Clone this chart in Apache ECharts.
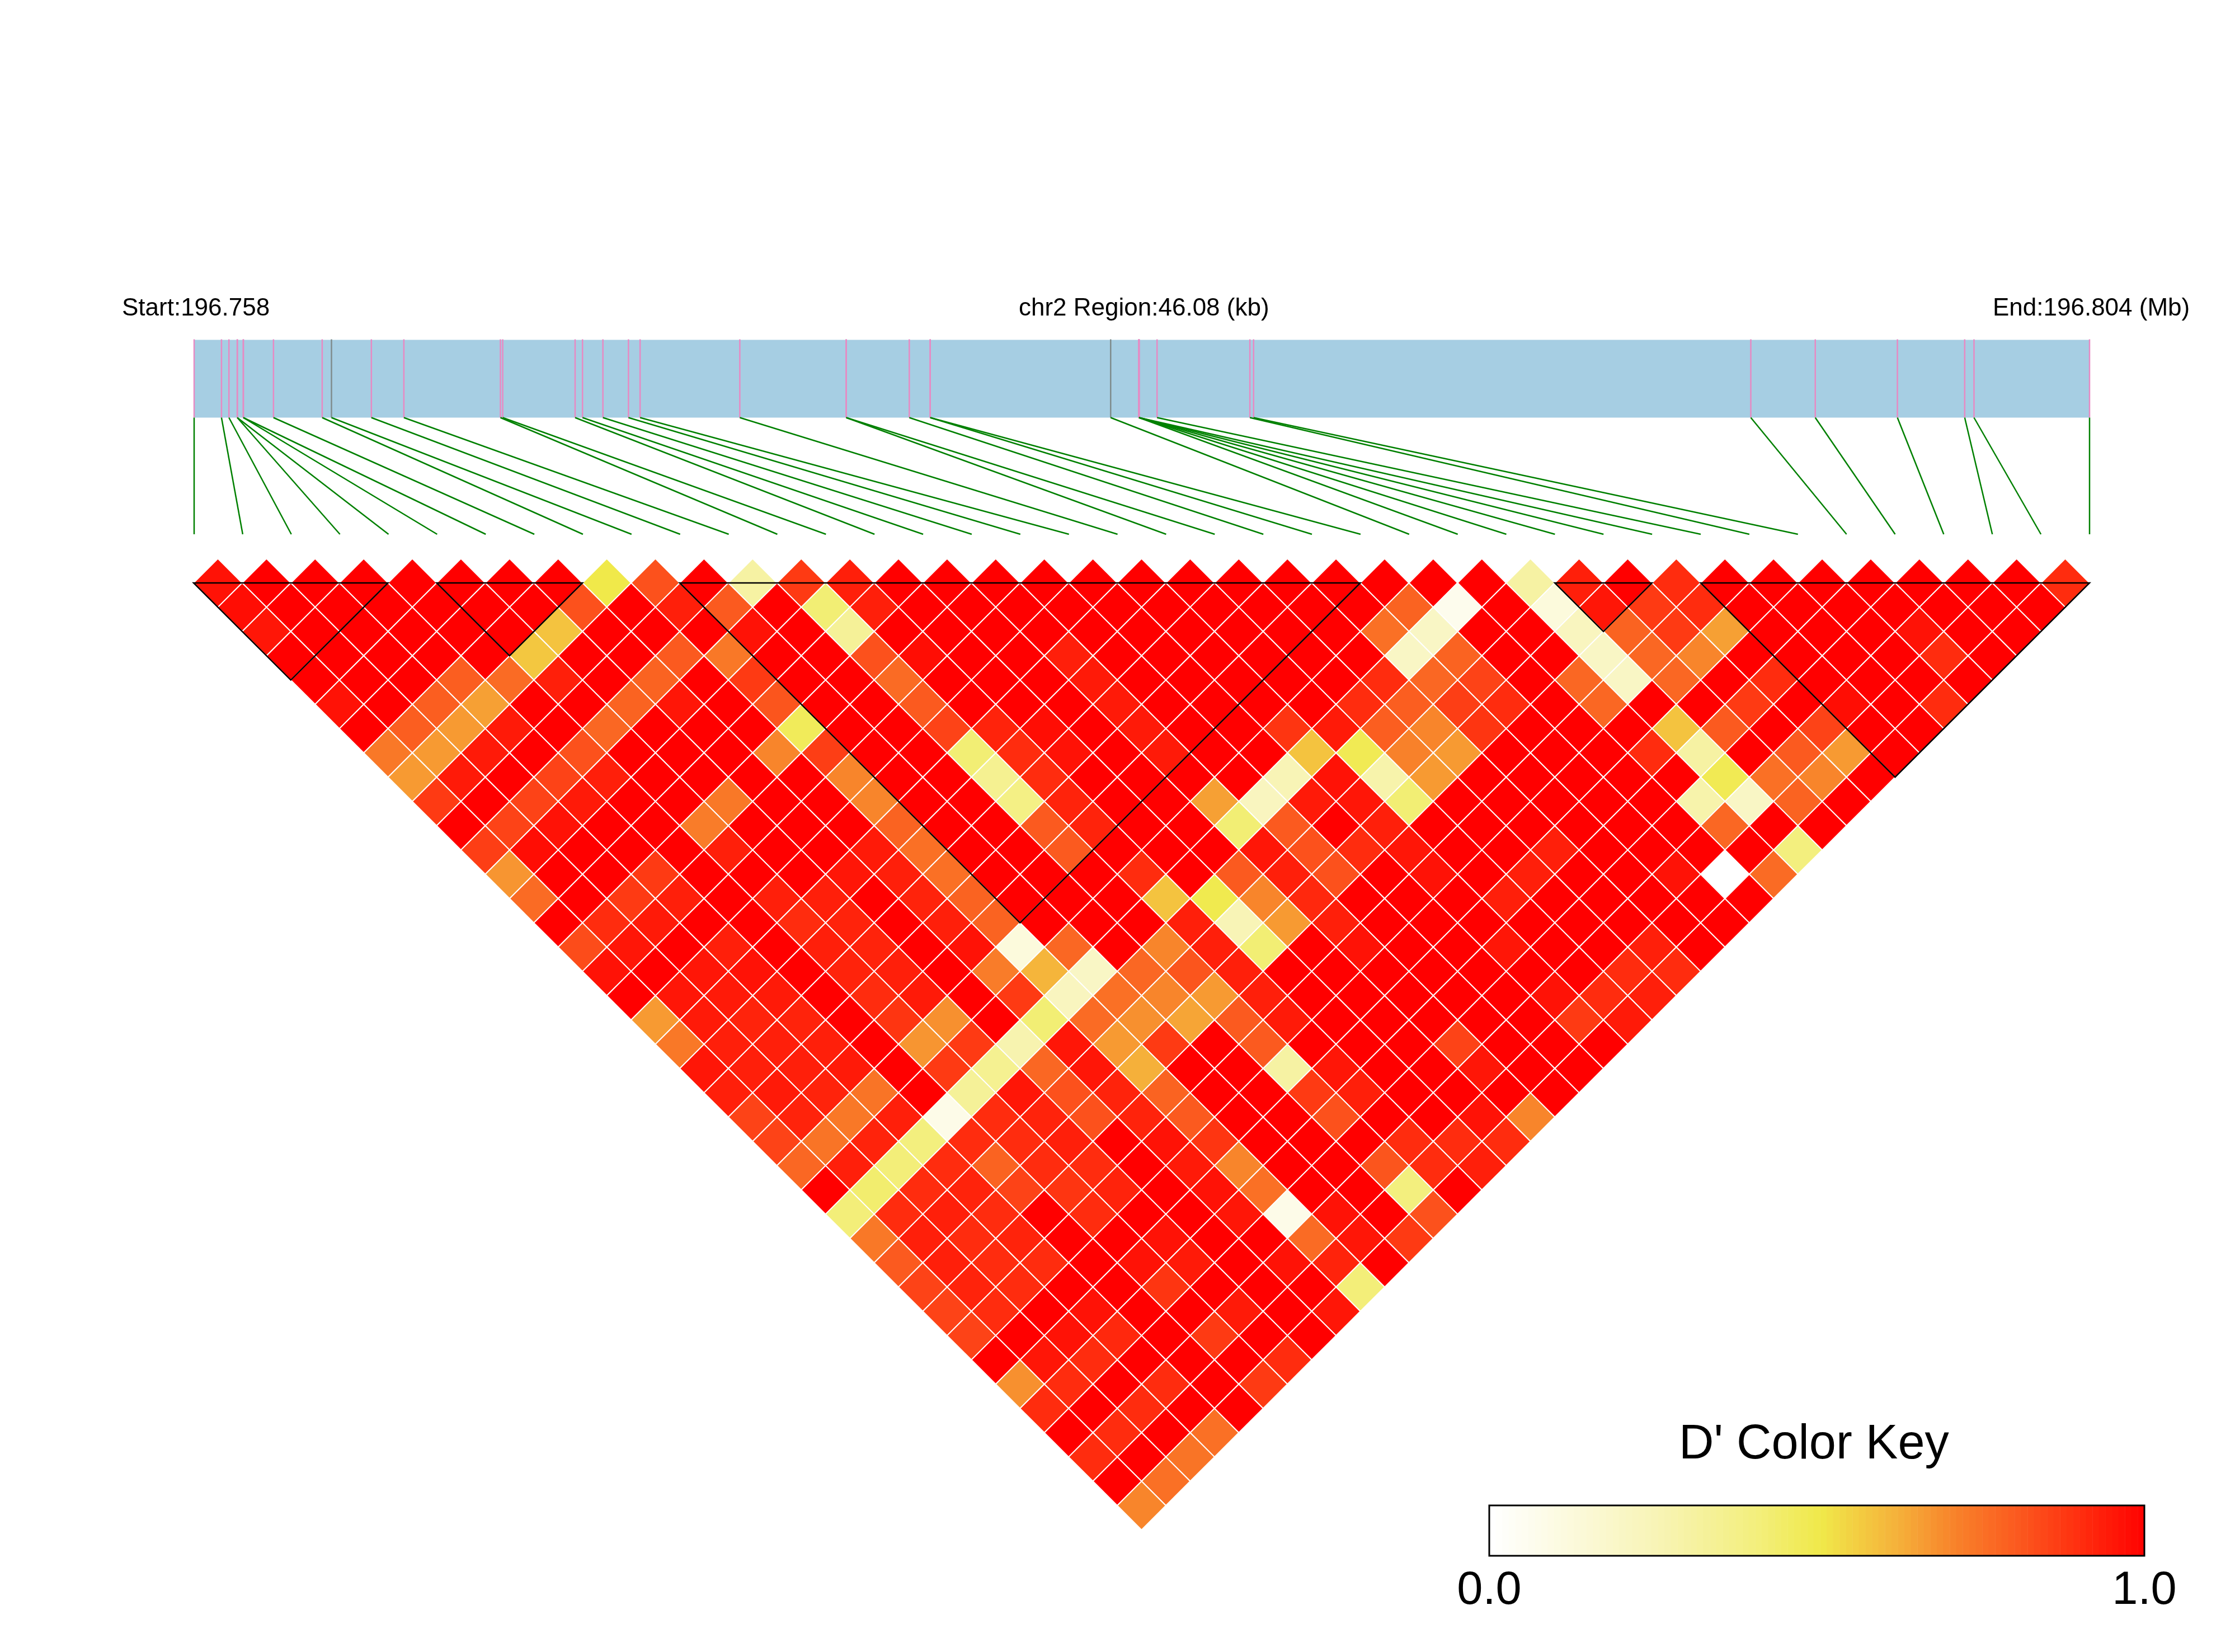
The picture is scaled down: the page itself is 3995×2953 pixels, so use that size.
<!DOCTYPE html>
<html>
<head>
<meta charset="utf-8">
<title>LD heatmap</title>
<style>html,body{margin:0;padding:0;background:#fff}#chart{width:3995px;height:2953px}</style>
<script src="https://cdn.jsdelivr.net/npm/echarts@6/dist/echarts.min.js"></script>
</head>
<body>
<div id="chart"></div>
<script>
// ---- Region and SNP positions (kb from region start) ----
const startLabel = 'Start:196.758';
const regionLabel = 'chr2 Region:46.08 (kb)';
const endLabel = 'End:196.804 (Mb)';
const keyTitle = "D' Color Key";
const regionKb = 46.08;
const snpKb = [0,0.665,0.846,1.049,1.049,1.196,1.196,1.929,3.113,3.339,
  4.309,5.099,7.446,7.502,9.262,9.442,9.938,10.559,10.842,13.266,
  15.853,15.853,17.386,17.895,17.895,22.282,22.971,22.971,22.971,22.971,
  22.971,23.41,25.667,25.757,37.845,39.412,41.409,43.045,43.271,46.08];
const graySnps = [9,25];

// ---- D' values: one array per distance between SNPs ----
const r00=[.96,1,1,1,1,1,1,1,.5,.82, 1,.3,.87,.93,1,1,1,1,1,1, 1,1,1,1,1,1,1,.3,.93,1, .9,1,1,1,1,1,1,1,.9];
const r01=[.97,1,1,1,1,1,1,.82,1,.93, .8,1,.42,.93,1,1,1,1,1,1, 1,1,1,1,.78,.06,1,.12,.95,.87, .9,1,1,1,1,1,1,1];
const r02=[.95,1,1,1,1,1,.58,1,1,1, .96,1,.33,1,1,1,1,1,1,1, 1,1,1,.75,.2,1,1,.22,.78,.87, .65,1,1,1,.96,1,1];
const r03=[1,1,1,1,1,.57,1,1,.8,.73, 1,1,.82,.97,1,1,.93,1,1,1, 1,1,1,.2,.78,1,1,.2,.77,.7, 1,1,1,1,.9,1];
const r04=[1,1,1,.79,.76,.93,1,.78,1,.87, 1,1,.76,1,1,1,.94,1,1,1, 1,1,.9,.77,.85,1,.77,.2,.77,1, .9,1,1,1,1];
const r05=[.96,1,.79,.65,1,1,.78,.95,1,.81, 1,1,.8,1,1,1,.94,1,1,1, 1,.9,.79,.86,.9,1,.77,1,1,.87, 1,.97,1,.9];
const r06=[1,.79,.66,.94,1,.77,1,1,1,.47, 1,1,.85,.92,.97,1,.94,1,1,.88, .94,.79,.7,.88,1,1,1,.58,.8,1, .85,1,1];
const r07=[.73,.66,.94,1,.82,1,1,1,.7,.86, 1,1,.42,.9,.96,1,.94,1,1,.58, .48,.71,.66,1,1,1,.9,.3,1,.8, .66,1];
const r08=[.66,.94,1,.85,.93,1,1,1,1,.7, 1,1,.35,.9,1,1,1,1,.25,.96, .28,.66,1,1,1,1,1,.48,.75,.7, 1];
const r09=[.87,1,.85,.94,1,1,.73,1,1,.7, 1,1,.38,.92,1,1,.65,.22,.94,.95, .42,1,1,1,1,1,.28,.2,.78,1];
const r10=[1,.85,.96,1,1,.72,1,1,1,.78, 1,1,.8,.92,1,1,.42,.8,1,.93, 1,1,1,1,1,1,.77,1,1];
const r11=[.86,.97,1,1,1,.93,1,1,.94,.75, 1,1,.8,1,1,1,.95,.82,.9,.95, 1,1,.93,1,1,1,1,.4];
const r12=[.67,1,1,.87,1,1,1,.95,.93,.75, 1,1,1,.9,1,.8,.93,.82,1,.96, 1,.93,1,1,.96,0,.76];
const r13=[.76,1,.87,.93,1,.93,.93,1,.92,.78, 1,1,1,.58,.49,.7,.91,1,1,1, .93,1,1,1,1,1];
const r14=[1,.9,.94,1,1,.9,.92,1,.93,.78, 1,1,1,.93,.25,.66,.93,1,1,1, 1,1,1,1,1];
const r15=[.83,.95,1,.93,1,.93,.92,1,.96,.12, .77,1,.7,.93,.42,1,.96,1,1,.95, 1,1,.93,1];
const r16=[.96,1,.95,.96,1,.92,.93,1,.72,.61, .2,.77,.81,.93,1,1,1,1,1,1, 1,.9,.9];
const r17=[1,.95,.94,.94,1,.9,.94,1,.87,.22, .75,.7,.66,.93,1,1,1,1,1,.96, .9,.93];
const r18=[.66,.94,.92,.92,1,.88,.68,1,.42,.76, .68,.64,.8,.94,1,1,1,1,1,.87, .94];
const r19=[.73,.93,.93,.93,1,.67,.87,.27,.95,.66, .87,1,.8,1,1,1,.85,1,1,1];
const r20=[.95,.93,.93,.94,1,.87,.35,.77,.95,.62, 1,1,.3,.95,1,1,.95,1,1];
const r21=[.93,.94,.92,.74,1,.33,.95,.82,.92,.78, 1,1,.87,.93,1,1,1,1];
const r22=[.85,.92,.73,.93,.08,.9,.92,.82,.92,.8, 1,1,.82,1,1,.96,.7];
const r23=[.85,.74,.92,.4,.9,.9,.93,1,.96,.88, 1,1,1,.9,.9,.9];
const r24=[.77,.93,.41,.9,.78,.9,.9,1,.94,.7, 1,1,.81,.9,.93];
const r25=[1,.43,.9,.92,.85,.88,.92,1,.96,.75, 1,1,.4,1];
const r26=[.41,.9,.93,.9,1,.9,1,1,.95,.08, .96,1,.82];
const r27=[.73,.93,.9,.92,1,1,.96,1,1,.76, .95,.87];
const r28=[.8,.93,.9,.9,1,.96,.94,1,.96,.92, 1];
const r29=[.85,.92,.9,1,1,.88,1,1,1,.41];
const r30=[.85,.9,1,.96,1,1,.94,1,.95];
const r31=[.85,1,.96,.91,1,.87,1,1];
const r32=[1,.95,.9,1,1,1,.9];
const r33=[.68,.9,1,.9,1,.87];
const r34=[.9,1,.9,1,1];
const r35=[1,.9,1,.75];
const r36=[.9,1,.74];
const r37=[1,.75];
const r38=[.7];
const dprimeRows=[r00,r01,r02,r03,r04,r05,r06,r07,r08,r09,r10,r11,r12,r13,r14,r15,r16,r17,r18,r19,
  r20,r21,r22,r23,r24,r25,r26,r27,r28,r29,r30,r31,r32,r33,r34,r35,r36,r37,r38];

// ---- LD blocks: first and last SNP ----
const blocks=[[0,4],[5,8],[10,24],[28,30],[31,39]];

// ---- Colour key ----
const keyStops=[[0,'#ffffff'],[.25,'#f8f4b6'],[.4,'#f3ef7e'],[.5,'#f0e94a'],[.56,'#f3cc41'],[.62,'#f5b03a'],[.7,'#f8852b'],[.8,'#fb5a1f'],[.9,'#ff2c0e'],[1,'#ff0000']];
const keySteps=101;

function hex(c){return [1,3,5].map(i=>parseInt(c.substr(i,2),16));}
function colourOf(v){
  for(let i=1;i<keyStops.length;i++){
    if(v<=keyStops[i][0]){
      const a=keyStops[i-1],b=keyStops[i],t=(v-a[0])/(b[0]-a[0]);
      const ca=hex(a[1]),cb=hex(b[1]);
      return 'rgb('+ca.map((x,k)=>Math.round(x+(cb[k]-x)*t)).join(',')+')';
    }
  }
  return keyStops[keyStops.length-1][1];
}

const snpCount=snpKb.length;
const trackFraction=0.4;
const cells=[];
dprimeRows.forEach((row,r)=>row.forEach((v,p)=>cells.push([p+(r+1)/2,r,v])));
const connectors=snpKb.map((kb,k)=>[kb,k*regionKb/(snpCount-1)]);
const keyData=[];
for(let i=0;i<keySteps;i++)keyData.push([i/keySteps,(i+1)/keySteps]);

const chart=echarts.init(document.getElementById('chart'),null,{renderer:'canvas',width:3995,height:2953});
const hidden={show:false};
const smallText={fontSize:44,fontWeight:'normal',color:'#000',fontFamily:'"Liberation Sans"'};
chart.setOption({
  animation:false,
  backgroundColor:'#ffffff',
  textStyle:{fontFamily:'"Liberation Sans",Arial,sans-serif'},
  title:[
    {text:startLabel,left:218,top:530,padding:0,textStyle:smallText},
    {text:regionLabel,left:1821,top:530,padding:0,textStyle:smallText},
    {text:endLabel,left:3562,top:530,padding:0,textStyle:smallText},
    {text:keyTitle,left:3001,top:2540,padding:0,textStyle:{fontSize:86.5,fontWeight:'normal',color:'#000',fontFamily:'"Liberation Sans"'}}
  ],
  grid:[
    {left:347,top:607.5,width:3388,height:347.5},
    {left:346,top:998.6,width:3389,height:1736},
    {left:2662,top:2691,width:1171,height:90}
  ],
  xAxis:[
    {type:'value',gridIndex:0,min:0,max:regionKb,...hidden},
    {type:'value',gridIndex:1,min:0,max:snpCount-1,...hidden},
    {type:'value',gridIndex:2,min:0,max:1,interval:1,splitLine:{show:false},axisLine:{show:false},axisTick:{show:false},
      axisLabel:{fontSize:83,color:'#000',margin:22,fontFamily:'"Liberation Sans"',formatter:v=>v.toFixed(1)}}
  ],
  yAxis:[
    {type:'value',gridIndex:0,min:0,max:1,inverse:true,...hidden},
    {type:'value',gridIndex:1,min:-1,max:snpCount-1,inverse:true,...hidden},
    {type:'value',gridIndex:2,min:0,max:1,...hidden}
  ],
  series:[
    {type:'custom',name:'Region',xAxisIndex:0,yAxisIndex:0,clip:false,silent:true,data:[[0,regionKb]],
      renderItem(p,api){
        const a=api.coord([api.value(0),0]),b=api.coord([api.value(1),trackFraction]);
        return {type:'rect',shape:{x:a[0],y:a[1],width:b[0]-a[0],height:b[1]-a[1]},style:{fill:'#a6cee3'}};
      }},
    {type:'custom',name:'SNP',xAxisIndex:0,yAxisIndex:0,clip:false,silent:true,data:snpKb.map((kb,k)=>[kb,graySnps.includes(k)?1:0]),
      renderItem(p,api){
        const a=api.coord([api.value(0),0]),b=api.coord([api.value(0),trackFraction]);
        return {type:'line',shape:{x1:a[0],y1:a[1]-1,x2:b[0],y2:b[1]},style:{stroke:api.value(1)?'#7f8c8d':'#e78ac3',lineWidth:2.5}};
      }},
    {type:'custom',name:'Connector',xAxisIndex:0,yAxisIndex:0,clip:false,silent:true,data:connectors,
      renderItem(p,api){
        const a=api.coord([api.value(0),trackFraction]),b=api.coord([api.value(1),1]);
        return {type:'line',shape:{x1:a[0],y1:a[1],x2:b[0],y2:b[1]},style:{stroke:'#008000',lineWidth:2.5}};
      }},
    {type:'custom',name:"D'",xAxisIndex:1,yAxisIndex:1,clip:false,silent:true,data:cells,
      renderItem(p,api){
        const u=api.value(0),r=api.value(1),v=api.value(2);
        const pts=[[u,r-1],[u+.5,r],[u,r+1],[u-.5,r]].map(q=>api.coord(q));
        return {type:'polygon',shape:{points:pts},style:{fill:colourOf(v),stroke:'#ffffff',lineWidth:2}};
      }},
    {type:'custom',name:'Block',xAxisIndex:1,yAxisIndex:1,clip:false,silent:true,z:4,data:blocks,
      renderItem(p,api){
        const i=api.value(0),j=api.value(1);
        const pts=[[i,0],[j,0],[(i+j)/2,j-i]].map(q=>api.coord(q));
        return {type:'polygon',shape:{points:pts},style:{fill:'none',stroke:'#000000',lineWidth:2.5,lineJoin:'miter'}};
      }},
    {type:'custom',name:'Key',xAxisIndex:2,yAxisIndex:2,clip:false,silent:true,data:keyData,
      renderItem(p,api){
        const a=api.coord([api.value(0),1]),b=api.coord([api.value(1),0]);
        return {type:'rect',shape:{x:a[0],y:a[1],width:b[0]-a[0]+0.5,height:b[1]-a[1]},style:{fill:colourOf(api.value(0))}};
      }},
    {type:'custom',name:'Key frame',xAxisIndex:2,yAxisIndex:2,clip:false,silent:true,z:4,data:[[0,1]],
      renderItem(p,api){
        const a=api.coord([api.value(0),1]),b=api.coord([api.value(1),0]);
        return {type:'rect',shape:{x:a[0],y:a[1],width:b[0]-a[0],height:b[1]-a[1]},style:{fill:'none',stroke:'#000',lineWidth:3}};
      }}
  ]
});
</script>
</body>
</html>
